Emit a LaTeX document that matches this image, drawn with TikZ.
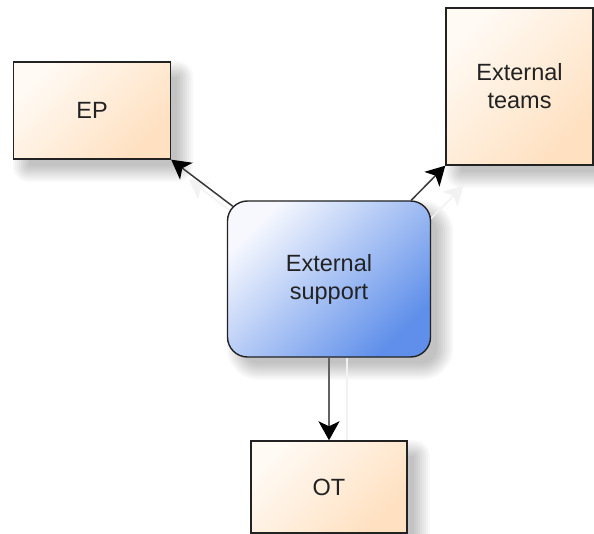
\documentclass[tikz,border=0pt]{standalone}
\usepackage{fontspec}
\setmainfont{Liberation Sans}
\usetikzlibrary{arrows.meta,calc}

\definecolor{peachA}{HTML}{FFFAF4}
\definecolor{peachB}{HTML}{FFE0C0}
\definecolor{blueA}{HTML}{F6F8FE}
\definecolor{blueB}{HTML}{5F8FEA}
\definecolor{edge}{HTML}{222222}
\definecolor{wire}{HTML}{3A3A3A}
\definecolor{ink}{HTML}{222222}

\pgfdeclarelayer{paper}
\pgfdeclarelayer{shade}
\pgfsetlayers{paper,shade,main}

\tikzset{
  unitbox/.style={draw=edge, line width=1.4pt,
      top color=peachA, bottom color=peachB, shading angle=45,
      align=center, text=ink, font=\fontsize{23.5}{28}\selectfont},
  hubbox/.style={unitbox, rounded corners=20pt,
      top color=blueA, bottom color=blueB, shading angle=45},
  tip/.tip={Stealth[length=19pt, width=21pt, inset=5pt, color=black]},
  link/.style={draw=wire, line width=1.5pt, -tip},
  ghost/.style={draw=black!5, line width=1.5pt,
      -{Stealth[length=19pt, width=21pt, inset=5pt, color=black!5]}},
}

% soft drop shadow behind a node: stacked translucent rectangles
\newcommand\softdrop[2][0]{%
  \begin{pgfonlayer}{shade}
    \foreach \r in {12,10,...,-4}{
      \fill[black, opacity=0.026, rounded corners={#1+\r+4}]
        ($(#2.north west)+(12-\r,12-\r)$) rectangle ($(#2.south east)+(10+\r,10+\r)$);
    }
  \end{pgfonlayer}}

\begin{document}
\begin{tikzpicture}[x=1pt, y=-1pt]
  \useasboundingbox (0,0) rectangle (594,534);
  \begin{pgfonlayer}{paper}
    \fill[white] (0,0) rectangle (594,534);
  \end{pgfonlayer}

  \node[unitbox, minimum width=157pt, minimum height=97pt] (ep) at (92,110.5) {EP};
  \node[unitbox, minimum width=147pt, minimum height=157pt] (teams) at (519.5,86.5) {External\\teams};
  \node[hubbox, minimum width=203pt, minimum height=156pt] (sup) at (329,279) {External\\support};
  \node[unitbox, minimum width=156pt, minimum height=92pt] (ot) at (329,487) {OT};

  \softdrop{ep}
  \softdrop{teams}
  \softdrop[16]{sup}
  \softdrop{ot}

  % where the diagonal connectors leave the rounded hub
  \coordinate (supNW) at ($(sup.north west)+(6,6)$);
  \coordinate (supNE) at ($(sup.north east)+(-20,0)$);

  % faint connector shadows
  \begin{pgfonlayer}{shade}
    \draw[ghost] ($(supNW)+(18,20)$) -- ($(ep.south east)+(18,20)$);
    \draw[ghost] ($(supNE)+(18,20)$) -- ($(teams.south west)+(18,20)$);
    \draw[draw=black!5, line width=1.5pt] ($(sup.south)+(18,0)$) -- ($(ot.north)+(18,0)$);
  \end{pgfonlayer}

  \draw[link] (supNW) -- (ep.south east);
  \draw[link] (supNE) -- (teams.south west);
  \draw[link, draw=black!62, line width=2.2pt] (sup.south) -- (ot.north);
\end{tikzpicture}
\end{document}
